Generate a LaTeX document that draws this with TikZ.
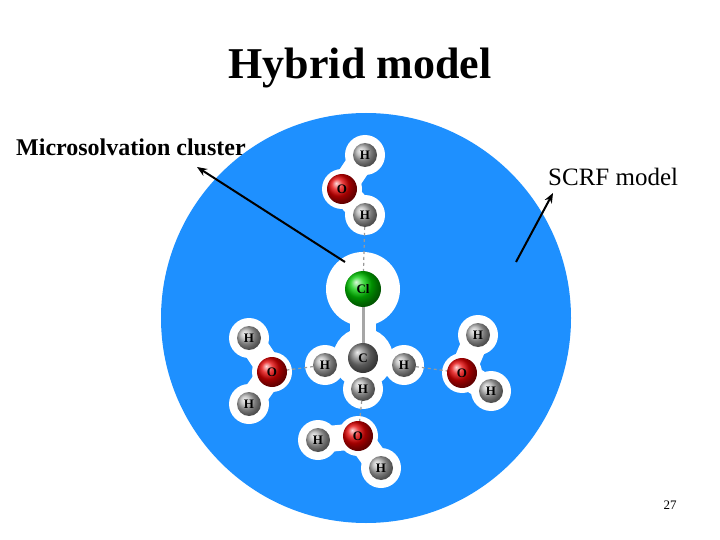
\documentclass[tikz,border=0pt]{standalone}
\usepackage{fontspec}
\setmainfont{Liberation Serif}
\usetikzlibrary{arrows.meta}
\definecolor{scrf}{RGB}{30,144,255}
\pgfdeclarelayer{bonds}
\pgfsetlayers{bonds,main}
\tikzset{
  atom/.style={circle, inner sep=0pt, font=\bfseries\fontsize{13}{13}\selectfont},
  hyd/.style={atom, minimum size=24pt, ball color=gray!60, text=black},
  oxy/.style={atom, minimum size=30pt, ball color=red!90!black, text=black},
  chl/.style={atom, minimum size=36pt, ball color=green!80!black, text=black},
  carb/.style={atom, minimum size=30pt, ball color=gray, text=black},
  hbond/.style={gray!80, dashed, line width=1.2pt},
  bond/.style={gray!70, line width=3pt},
  halo/.style={white, line width=26pt, line cap=round},
  arrow/.style={line width=2pt, -{Stealth[length=10pt,width=8pt]}}
}
\begin{document}
\begin{tikzpicture}[x=1pt,y=-1pt]
  \useasboundingbox (0,0) rectangle (720,540);
  \begin{pgfonlayer}{bonds}
  \fill[scrf] (366,318) circle (205);
  % halos
  \foreach \a/\b in {365/155, 342/189, 365/215, 249/338, 272/372, 249/404,
                     478/335, 462/373, 491/391, 358/436, 318/440, 381/468,
                     325/365, 404/365, 363/389}
    \fill[white] (\a,\b) circle (20);
  \fill[white] (363,289) circle (37);
  \fill[white] (363,358) circle (30);
  \draw[halo] (365,155) -- (342,189) -- (365,215);
  \draw[halo] (249,338) -- (272,372) -- (249,404);
  \draw[halo] (478,335) -- (462,373) -- (491,391);
  \draw[halo] (318,440) -- (358,436) -- (381,468);
  \draw[halo] (363,289) -- (363,358);
  \end{pgfonlayer}
  % atoms
  \node[hyd] (h1) at (365,155) {H};
  \node[oxy] (o1) at (342,189) {O};
  \node[hyd] (h2) at (365,215) {H};
  \node[chl] (cl) at (363,289) {Cl};
  \node[carb] (c) at (363,358) {C};
  \node[hyd] (hcl) at (325,365) {H};
  \node[hyd] (hcr) at (404,365) {H};
  \node[hyd] (hcb) at (363,389) {H};
  \node[hyd] (h3) at (249,338) {H};
  \node[oxy] (o2) at (272,372) {O};
  \node[hyd] (h4) at (249,404) {H};
  \node[hyd] (h5) at (478,335) {H};
  \node[oxy] (o3) at (462,373) {O};
  \node[hyd] (h6) at (491,391) {H};
  \node[oxy] (o4) at (358,436) {O};
  \node[hyd] (h7) at (318,440) {H};
  \node[hyd] (h8) at (381,468) {H};
  % bonds
  \begin{pgfonlayer}{bonds}
  \draw[hbond] (h2.center) -- (cl.center);
  \draw[hbond] (hcl.center) -- (o2.center);
  \draw[hbond] (hcr.center) -- (o3.center);
  \draw[hbond] (hcb.center) -- (o4.center);
  \draw[bond] (cl.center) -- (c.center);
  \end{pgfonlayer}
  % labels
  \node[font=\bfseries\fontsize{44}{44}\selectfont] (title) at (360,68) {Hybrid model};
  \node[font=\bfseries\fontsize{24}{24}\selectfont, anchor=west, inner sep=0pt] (micro) at (16,147) {Microsolvation cluster};
  \node[font=\fontsize{25}{25}\selectfont, anchor=west, inner sep=0pt] (scrf) at (548,177) {SCRF model};
  \node[font=\fontsize{13}{13}\selectfont] (page) at (670,505) {27};
  \coordinate (mtip) at (197,167);
  \coordinate (mtail) at (345,262);
  \coordinate (stip) at (553,193);
  \coordinate (stail) at (516,262);
  \draw[arrow] (mtail) -- (mtip);
  \draw[arrow] (stail) -- (stip);
\end{tikzpicture}
\end{document}
